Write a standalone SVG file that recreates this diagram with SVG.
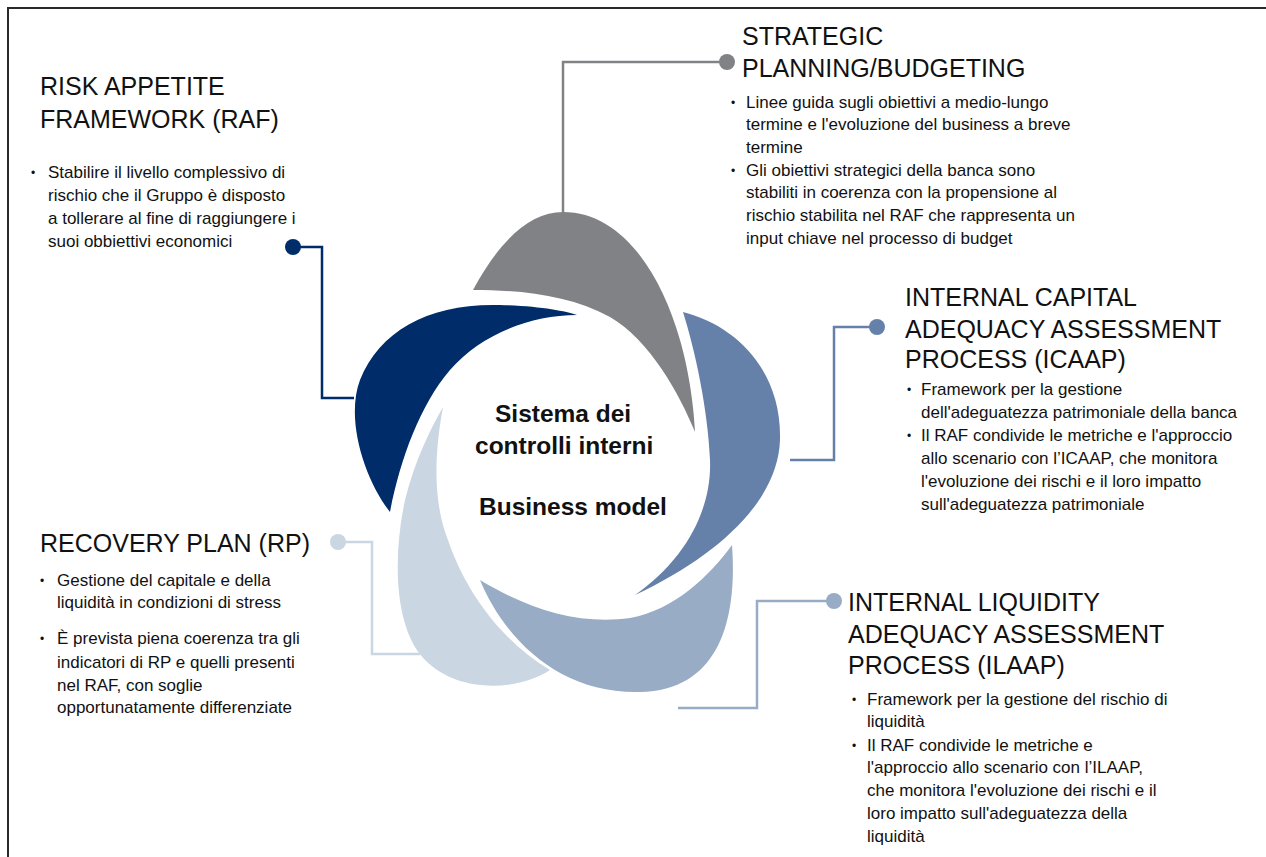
<svg xmlns="http://www.w3.org/2000/svg" width="1266" height="857" viewBox="0 0 1266 857">
<style>
  text { font-family: "Liberation Sans", Arial, sans-serif; fill: #111; }
  .title { font-size: 25px; }
  .body { font-size: 17px; }
  .bul { font-size: 12px; }
  .center { font-size: 24.5px; font-weight: bold; }
  .conn { fill: none; stroke-width: 2.5; }
  .navy { fill: #002d69; }
  .gray { fill: #818285; }
  .steel { fill: #6681a9; }
  .mid { fill: #98acc6; }
  .light { fill: #cbd6e3; }
</style>
<rect x="0" y="0" width="1266" height="857" fill="#ffffff"/>
<path d="M8,857 V8 H1266" fill="none" stroke="#2a2a2a" stroke-width="2"/>

<g id="connectors">
  <path class="conn" stroke="#002d69" d="M293,247 H322 V398 H354"/>
  <circle cx="293" cy="247" r="8" class="navy"/>
  <path class="conn" stroke="#818285" stroke-width="3" d="M727,62 H563 V216"/>
  <circle cx="727" cy="62" r="8" class="gray"/>
  <path class="conn" stroke="#6681a9" d="M877,327 H834 V460 H790"/>
  <circle cx="877" cy="327" r="8" class="steel"/>
  <path class="conn" stroke="#98acc6" d="M834,601 H757 V708 H678"/>
  <circle cx="834" cy="601" r="8" class="mid"/>
  <path class="conn" stroke="#cbd6e3" d="M338,542 H372 V654 H420"/>
  <circle cx="338" cy="542" r="8" class="light"/>
</g>

<g id="node-strategic">
  <path class="gray" d="M473,290 C500,240 530,212 563,212 C620,212 660,270 680,340 C690,375 694,410 695,432 C680,395 650,340 610,317 C570,295 520,290 473,290 Z"/>
  <text class="title" x="742" y="45">STRATEGIC</text>
  <text class="title" x="742" y="77">PLANNING/BUDGETING</text>
  <text class="bul" x="731" y="107">•</text>
  <text class="body" x="746" y="108">Linee guida sugli obiettivi a medio-lungo</text>
  <text class="body" x="746" y="130">termine e l'evoluzione del business a breve</text>
  <text class="body" x="746" y="153">termine</text>
  <text class="bul" x="731" y="175">•</text>
  <text class="body" x="746" y="176">Gli obiettivi strategici della banca sono</text>
  <text class="body" x="746" y="198">stabiliti in coerenza con la propensione al</text>
  <text class="body" x="746" y="221">rischio stabilita nel RAF che rappresenta un</text>
  <text class="body" x="746" y="244">input chiave nel processo di budget</text>
</g>

<g id="node-icaap">
  <path class="steel" d="M683,312 C735,325 782,370 780,440 C778,500 720,555 635,595 C685,560 712,510 710,460 C708,410 695,350 683,312 Z"/>
  <text class="title" x="905" y="306">INTERNAL CAPITAL</text>
  <text class="title" x="905" y="338">ADEQUACY ASSESSMENT</text>
  <text class="title" x="905" y="368">PROCESS (ICAAP)</text>
  <text class="bul" x="907" y="394">•</text>
  <text class="body" x="921" y="395">Framework per la gestione</text>
  <text class="body" x="921" y="418">dell'adeguatezza patrimoniale della banca</text>
  <text class="bul" x="907" y="440">•</text>
  <text class="body" x="921" y="441">Il RAF condivide le metriche e l'approccio</text>
  <text class="body" x="921" y="464">allo scenario con l’ICAAP, che monitora</text>
  <text class="body" x="921" y="487">l'evoluzione dei rischi e il loro impatto</text>
  <text class="body" x="921" y="510">sull'adeguatezza patrimoniale</text>
</g>

<g id="node-ilaap">
  <path class="mid" d="M732,545 C736,600 730,690 640,692 C560,694 505,640 480,580 C530,610 580,625 630,618 C675,610 710,575 732,545 Z"/>
  <text class="title" x="848" y="611">INTERNAL LIQUIDITY</text>
  <text class="title" x="848" y="643">ADEQUACY ASSESSMENT</text>
  <text class="title" x="848" y="674">PROCESS (ILAAP)</text>
  <text class="bul" x="852" y="704">•</text>
  <text class="body" x="867" y="705">Framework per la gestione del rischio di</text>
  <text class="body" x="867" y="727">liquidità</text>
  <text class="bul" x="852" y="750">•</text>
  <text class="body" x="867" y="751">Il RAF condivide le metriche e</text>
  <text class="body" x="867" y="773">l'approccio allo scenario con l’ILAAP,</text>
  <text class="body" x="867" y="796">che monitora l'evoluzione dei rischi e il</text>
  <text class="body" x="867" y="819">loro impatto sull'adeguatezza della</text>
  <text class="body" x="867" y="842">liquidità</text>
</g>

<g id="node-rp">
  <path class="light" d="M550,670 C520,690 460,695 425,660 C395,630 392,560 405,500 C415,460 430,430 443,407 C435,450 432,500 448,540 C465,590 500,640 550,670 Z"/>
  <text class="title" x="40" y="552">RECOVERY PLAN (RP)</text>
  <text class="bul" x="40" y="585">•</text>
  <text class="body" x="57" y="586">Gestione del capitale e della</text>
  <text class="body" x="57" y="608">liquidità in condizioni di stress</text>
  <text class="bul" x="40" y="643">•</text>
  <text class="body" x="57" y="644">È prevista piena coerenza tra gli</text>
  <text class="body" x="57" y="668">indicatori di RP e quelli presenti</text>
  <text class="body" x="57" y="691">nel RAF, con soglie</text>
  <text class="body" x="57" y="713">opportunatamente differenziate</text>
</g>

<g id="node-raf">
  <path class="navy" d="M390,512 C365,480 345,420 360,380 C380,330 430,303 500,305 C540,306 565,311 577,315 C530,315 480,335 450,370 C420,405 400,460 390,512 Z"/>
  <text class="title" x="40" y="95">RISK APPETITE</text>
  <text class="title" x="40" y="128">FRAMEWORK (RAF)</text>
  <text class="bul" x="31" y="177">•</text>
  <text class="body" x="48" y="178">Stabilire il livello complessivo di</text>
  <text class="body" x="48" y="201">rischio che il Gruppo è disposto</text>
  <text class="body" x="48" y="224">a tollerare al fine di raggiungere i</text>
  <text class="body" x="48" y="247">suoi obbiettivi economici</text>
</g>

<g id="node-center">
  <text class="center" x="495" y="422">Sistema dei</text>
  <text class="center" x="475" y="454">controlli interni</text>
  <text class="center" x="479" y="515">Business model</text>
</g>
</svg>
